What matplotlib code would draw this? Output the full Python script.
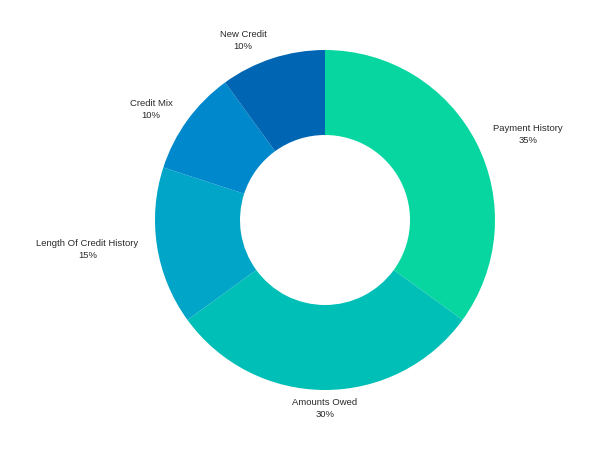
import matplotlib.pyplot as plt
import matplotlib
import numpy as np

matplotlib.rc('font', family=['Liberation Sans', 'DejaVu Sans'], size=6.8)

# Data
categories = ["Payment History", "Amounts Owed", "Length Of Credit History",
              "Credit Mix", "New Credit"]
shares = [35, 30, 15, 10, 10]
colors = ["#08d6a0", "#00bfb6", "#00a5c8", "#0088cc", "#0066b3"]

labels = [f"{c}\n{v}%" for c, v in zip(categories, shares)]

fig = plt.figure(figsize=(6, 4.5), dpi=100)
ax = fig.add_axes([0, 0, 1, 1])

wedges, texts = ax.pie(shares, labels=labels, colors=colors, startangle=90,
                       counterclock=False, center=(325, 230), radius=170,
                       labeldistance=1.11,
                       wedgeprops=dict(width=85, linewidth=0),
                       textprops=dict(color='#2a2a2a', multialignment='center',
                                      linespacing=1.45))

# pie picks alignment relative to x=0, fix it for the shifted centre
for w, t in zip(wedges, texts):
    mid = np.deg2rad((w.theta1 + w.theta2) / 2)
    c = np.cos(mid)
    if abs(c) < 0.05:
        t.set_ha('center')
    elif c > 0:
        t.set_ha('left')
    else:
        t.set_ha('right')
    t.set_va('center')

ax.set_xlim(0, 600)
ax.set_ylim(0, 450)
ax.set_aspect('equal')
ax.axis('off')
fig.savefig("out.png", dpi=100)
